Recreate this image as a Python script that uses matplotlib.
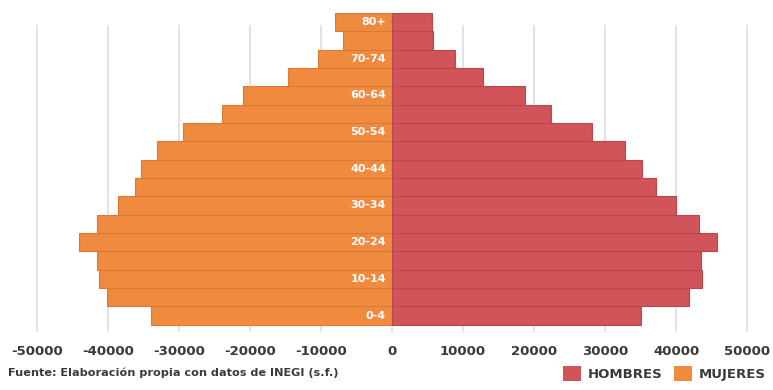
import numpy as np
import matplotlib
matplotlib.use("Agg")
import matplotlib.pyplot as plt
from matplotlib.patches import Patch

# Grupos de edad (de abajo hacia arriba)
age_groups = ['0-4', '5-9', '10-14', '15-19', '20-24', '25-29', '30-34', '35-39',
              '40-44', '45-49', '50-54', '55-59', '60-64', '65-69', '70-74', '75-79', '80+']

# Poblacion por sexo
mujeres = [33900, 40200, 41300, 41500, 44100, 41500, 38600, 36200,
           35300, 33100, 29400, 23900, 21000, 14600, 10400, 6900, 8000]
hombres = [35100, 41800, 43700, 43500, 45800, 43200, 40000, 37200,
           35200, 32800, 28200, 22400, 18700, 12800, 8900, 5800, 5600]

ticks = [-50000, -40000, -30000, -20000, -10000, 0, 10000, 20000, 30000, 40000, 50000]

orange = '#ef8a3f'
red = '#d05459'
text_col = '#3a3a3a'

fig = plt.figure(figsize=(7.73, 3.9), dpi=100)
ax = fig.add_axes([0.0387, 0.1487, 0.937, 0.818])

y = np.arange(len(age_groups))

# gridlines (only partly up the chart, like the original)
ax.vlines(ticks, -0.9, 15.85, color='#e0e0e0', linewidth=1.3, zorder=0)

ax.barh(y, [-v for v in mujeres], height=1.0, color=orange,
        edgecolor='#d97a35', linewidth=0.8, zorder=2)
ax.barh(y, hombres, height=1.0, color=red,
        edgecolor='#b9474c', linewidth=0.8, zorder=2)

# age labels on every other group, inside the orange bars
for i in range(0, len(age_groups), 2):
    ax.text(-850, y[i], age_groups[i], ha='right', va='center',
            color='white', fontsize=8, fontweight='bold', zorder=3)

ax.set_xlim(-51000, 51000)
ax.set_ylim(-0.9, 16.5)
ax.set_xticks(ticks)
ax.set_xticklabels([str(t) for t in ticks])
ax.set_yticks([])
ax.tick_params(axis='x', length=0, pad=9, labelsize=9.5, labelcolor=text_col)
for lbl in ax.get_xticklabels():
    lbl.set_fontweight('bold')
for s in ax.spines.values():
    s.set_visible(False)

fig.text(0.010, 0.043, 'Fuente: Elaboración propia con datos de INEGI (s.f.)',
         fontsize=8.1, fontweight='bold', color=text_col, va='center')

handles = [Patch(facecolor=red, label='HOMBRES'), Patch(facecolor=orange, label='MUJERES')]
leg = fig.legend(handles=handles, loc='center left', bbox_to_anchor=(0.728, 0.043),
                 ncol=2, frameon=False, handlelength=1.36, handleheight=1.36,
                 handletextpad=0.5, columnspacing=0.9, borderaxespad=0,
                 borderpad=0, prop={'weight': 'bold', 'size': 9.5})
for t in leg.get_texts():
    t.set_color(text_col)

fig.savefig('out.png', dpi=100)
